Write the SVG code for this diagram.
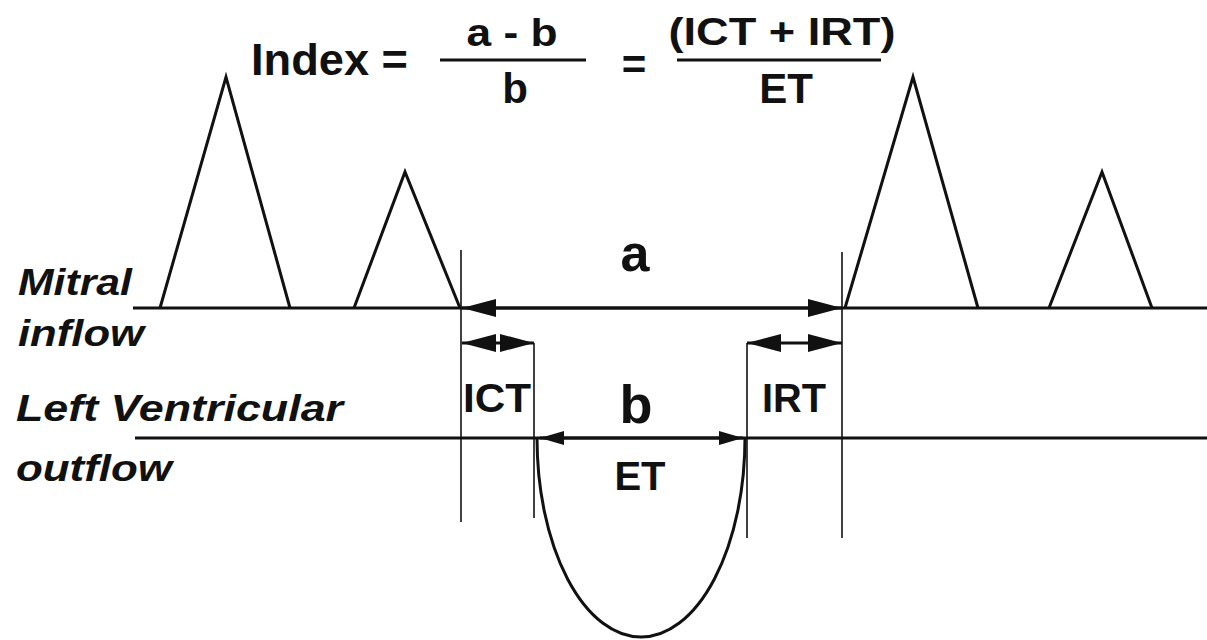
<svg xmlns="http://www.w3.org/2000/svg" width="1207" height="640" viewBox="0 0 1207 640">
<style>
.t{font-family:"Liberation Sans",Arial,sans-serif;font-weight:bold;fill:#111}
.lab{font-family:"Liberation Sans",Arial,sans-serif;font-weight:bold;font-style:italic;fill:#111;font-size:37px}
.ln{stroke:#111;stroke-width:3;fill:none;stroke-linejoin:miter}
.thin{stroke:#111;stroke-width:1.6;fill:none}
.arr{stroke:#111;stroke-width:3;fill:none}
</style>
<defs>
<marker id="ah" viewBox="0 0 34 18" refX="34" refY="9" markerWidth="34" markerHeight="18" markerUnits="userSpaceOnUse" orient="auto-start-reverse"><path d="M0,0 L34,9 L0,18 Z" fill="#111"/></marker>
<marker id="ahs" viewBox="0 0 24 14" refX="24" refY="7" markerWidth="24" markerHeight="14" markerUnits="userSpaceOnUse" orient="auto-start-reverse"><path d="M0,0 L24,7 L0,14 Z" fill="#111"/></marker>
</defs>
<rect width="1207" height="640" fill="#fff"/>
<g id="formula">
<text class="t" x="251" y="75" font-size="44" textLength="157" lengthAdjust="spacingAndGlyphs">Index =</text>
<text class="t" x="512" y="46" font-size="38" text-anchor="middle" textLength="91" lengthAdjust="spacingAndGlyphs">a - b</text>
<line class="ln" x1="440" y1="60" x2="586" y2="60" stroke-width="4"/>
<text class="t" x="515" y="103" font-size="42" text-anchor="middle">b</text>
<text class="t" x="634" y="79" font-size="42" text-anchor="middle">=</text>
<text class="t" x="782" y="45" font-size="39" text-anchor="middle" textLength="227" lengthAdjust="spacingAndGlyphs">(ICT + IRT)</text>
<line class="ln" x1="677" y1="60" x2="881" y2="60" stroke-width="4"/>
<text class="t" x="786" y="103" font-size="42" text-anchor="middle">ET</text>
</g>
<g id="mitral">
<line class="ln" x1="133" y1="308" x2="1207" y2="308"/>
<polyline class="ln" points="160,308 226,77 290,308"/>
<polyline class="ln" points="354,308 405,172 460,308"/>
<polyline class="ln" points="845,308 913,77 978,308"/>
<polyline class="ln" points="1049,308 1102,172 1152,308"/>
<text class="lab" x="18" y="295" textLength="114" lengthAdjust="spacingAndGlyphs">Mitral</text>
<text class="lab" x="18" y="346" textLength="126" lengthAdjust="spacingAndGlyphs">inflow</text>
</g>
<g id="lv">
<line class="ln" x1="135" y1="438" x2="1207" y2="438"/>
<path class="ln" d="M537,438 A104,199 0 0 0 745,438"/>
<text class="lab" x="16" y="421" textLength="327" lengthAdjust="spacingAndGlyphs">Left Ventricular</text>
<text class="lab" x="16" y="481" textLength="156" lengthAdjust="spacingAndGlyphs">outflow</text>
</g>
<g id="markers">
<line class="thin" x1="461" y1="250" x2="461" y2="522"/>
<line class="thin" x1="842" y1="252" x2="842" y2="538"/>
<line class="thin" x1="534" y1="343" x2="534" y2="518" stroke-width="2"/>
<line class="thin" x1="747" y1="343" x2="747" y2="538" stroke-width="2"/>
</g>
<g id="connectors">
<line class="arr" x1="462" y1="308" x2="842" y2="308" marker-start="url(#ah)" marker-end="url(#ah)"/>
<line class="arr" x1="462" y1="343" x2="534" y2="343" marker-start="url(#ah)" marker-end="url(#ah)"/>
<line class="arr" x1="747" y1="343" x2="842" y2="343" marker-start="url(#ah)" marker-end="url(#ah)"/>
<line class="arr" x1="540" y1="438" x2="743" y2="438" marker-start="url(#ahs)" marker-end="url(#ahs)"/>
</g>
<g id="labels">
<text class="t" x="635" y="271" font-size="52" text-anchor="middle">a</text>
<text class="t" x="497" y="412" font-size="40" text-anchor="middle" textLength="68" lengthAdjust="spacingAndGlyphs">ICT</text>
<text class="t" x="636" y="423" font-size="54" text-anchor="middle">b</text>
<text class="t" x="794" y="412" font-size="40" text-anchor="middle" textLength="64" lengthAdjust="spacingAndGlyphs">IRT</text>
<text class="t" x="640" y="490" font-size="40" text-anchor="middle">ET</text>
</g>
</svg>
